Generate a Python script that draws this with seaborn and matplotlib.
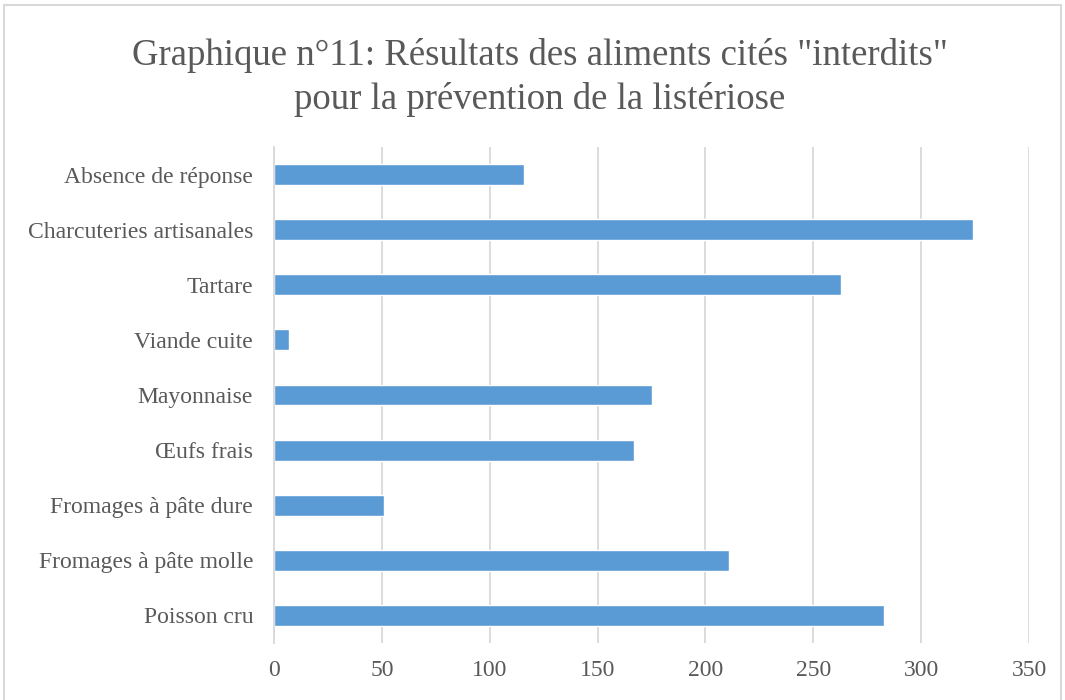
import seaborn as sns
import matplotlib.pyplot as plt
import pandas as pd
from matplotlib.patches import Rectangle

# Data (top to bottom)
categories = ["Absence de réponse", "Charcuteries artisanales", "Tartare",
              "Viande cuite", "Mayonnaise", "Œufs frais",
              "Fromages à pâte dure", "Fromages à pâte molle", "Poisson cru"]
counts = [116, 324, 263, 7, 175, 167, 51, 211, 283]
x_ticks = [0, 50, 100, 150, 200, 250, 300, 350]

df = pd.DataFrame({"aliment": categories, "n": counts})

sns.set_style("white")
plt.rcParams["font.family"] = ["Liberation Serif", "DejaVu Serif"]

text_col = "#595959"
grid_col = "#D9D9D9"

fig = plt.figure(figsize=(10.65, 7), dpi=100)
ax = fig.add_axes([0.2573, 0.0814, 0.7089, 0.7086])

sns.barplot(data=df, x="n", y="aliment", order=categories, color="#5B9BD5",
            width=0.38, saturation=1, ax=ax)

ax.set_xlim(0, 350)
ax.set_xticks(x_ticks)
ax.xaxis.grid(True, color=grid_col, linewidth=1.3)
ax.set_axisbelow(True)
ax.set_xlabel("")
ax.set_ylabel("")
ax.tick_params(axis="both", length=0, labelsize=17, colors=text_col)
ax.tick_params(axis="y", pad=15)
ax.tick_params(axis="x", pad=12)
for s in ["top", "right", "bottom"]:
    ax.spines[s].set_visible(False)
ax.spines["left"].set_color(grid_col)
ax.spines["left"].set_linewidth(1.3)

fig.text(0.507, 0.921, 'Graphique n°11: Résultats des aliments cités "interdits"',
         ha="center", va="center", fontsize=26.5, color=text_col)
fig.text(0.507, 0.858, "pour la prévention de la listériose",
         ha="center", va="center", fontsize=26.5, color=text_col)

# light border around the chart area
fig.patches.append(Rectangle((0.004, -0.01), 0.992, 1.003, transform=fig.transFigure,
                             fill=False, edgecolor=grid_col, linewidth=1.5))

fig.savefig("out.png", dpi=100)
plt.close(fig)
